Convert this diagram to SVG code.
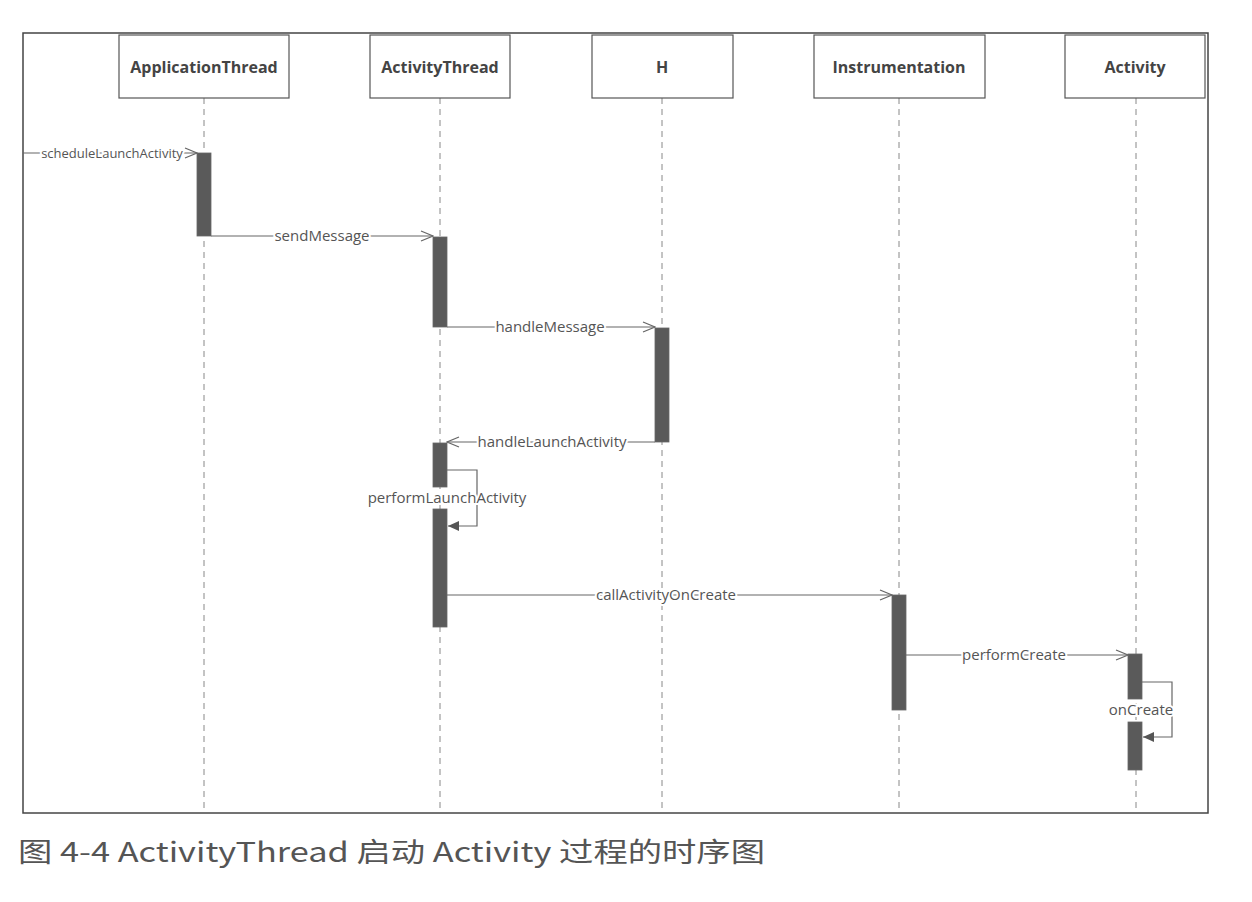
<svg xmlns="http://www.w3.org/2000/svg" width="1252" height="902" viewBox="0 0 1252 902">
<style>
.box{fill:#fff;stroke:#555;stroke-width:1.2}
.bt{font-family:"Open Sans","DejaVu Sans",sans-serif;font-weight:bold;font-size:16px;fill:#444;text-anchor:middle}
.life{stroke:#888;stroke-width:1;stroke-dasharray:6,5;fill:none}
.bar{fill:#5a5a5a;stroke:#666;stroke-width:0.8}
.msg{stroke:#666;stroke-width:1.2;fill:none}
.lbl{font-family:"Open Sans","DejaVu Sans",sans-serif;font-size:15px;fill:#555;text-anchor:middle;stroke:#fff;stroke-width:4;paint-order:stroke}
</style>
<defs>
<marker id="open" markerWidth="14" markerHeight="12" refX="13" refY="6" orient="auto" markerUnits="userSpaceOnUse">
<path d="M1,1 L13,6 L1,11" fill="none" stroke="#666" stroke-width="1.2"/>
</marker>
<marker id="fill" markerWidth="12" markerHeight="12" refX="11" refY="6" orient="auto" markerUnits="userSpaceOnUse">
<path d="M0,1 L11,6 L0,11 Z" fill="#555"/>
</marker>
</defs>
<rect width="1252" height="902" fill="#fff"/>
<rect x="23" y="33" width="1185" height="780" fill="none" stroke="#444" stroke-width="1.5"/>

<g id="lifelines">
<line class="life" x1="204" y1="98" x2="204" y2="813"/>
<line class="life" x1="440" y1="98" x2="440" y2="813"/>
<line class="life" x1="662" y1="98" x2="662" y2="813"/>
<line class="life" x1="899" y1="98" x2="899" y2="813"/>
<line class="life" x1="1136" y1="98" x2="1136" y2="813"/>
</g>

<g id="ApplicationThread"><rect class="box" x="119" y="35" width="170" height="63"/><text class="bt" x="204" y="73">ApplicationThread</text></g>
<g id="ActivityThread"><rect class="box" x="370" y="35" width="140" height="63"/><text class="bt" x="440" y="73">ActivityThread</text></g>
<g id="H"><rect class="box" x="592" y="35" width="141" height="63"/><text class="bt" x="662" y="73">H</text></g>
<g id="Instrumentation"><rect class="box" x="814" y="35" width="171" height="63"/><text class="bt" x="899" y="73">Instrumentation</text></g>
<g id="Activity"><rect class="box" x="1065" y="35" width="140" height="63"/><text class="bt" x="1135" y="73">Activity</text></g>

<g id="activations">
<rect class="bar" x="197" y="153" width="14" height="83"/>
<rect class="bar" x="433" y="237" width="14" height="90"/>
<rect class="bar" x="655" y="328" width="14" height="114"/>
<rect class="bar" x="433" y="443" width="14" height="44"/>
<rect class="bar" x="433" y="509" width="14" height="118"/>
<rect class="bar" x="892" y="595" width="14" height="115"/>
<rect class="bar" x="1128" y="654" width="14" height="45"/>
<rect class="bar" x="1128" y="722" width="14" height="48"/>
</g>

<g id="connectors">
<line class="msg" x1="23" y1="153" x2="197" y2="153" marker-end="url(#open)"/>
<line class="msg" x1="211" y1="236" x2="433" y2="236" marker-end="url(#open)"/>
<line class="msg" x1="447" y1="327" x2="655" y2="327" marker-end="url(#open)"/>
<line class="msg" x1="655" y1="442" x2="447" y2="442" marker-end="url(#open)"/>
<polyline class="msg" points="447,470 477,470 477,526 448,526" marker-end="url(#fill)"/>
<line class="msg" x1="447" y1="595" x2="892" y2="595" marker-end="url(#open)"/>
<line class="msg" x1="906" y1="655" x2="1128" y2="655" marker-end="url(#open)"/>
<polyline class="msg" points="1142,682 1172,682 1172,737 1143,737" marker-end="url(#fill)"/>
<text class="lbl" x="112" y="158" style="font-size:13px">scheduleLaunchActivity</text>
<text class="lbl" x="322" y="241">sendMessage</text>
<text class="lbl" x="550" y="332">handleMessage</text>
<text class="lbl" x="552" y="447">handleLaunchActivity</text>
<text class="lbl" x="447" y="503">performLaunchActivity</text>
<text class="lbl" x="666" y="600">callActivityOnCreate</text>
<text class="lbl" x="1014" y="660">performCreate</text>
<text class="lbl" x="1141" y="715">onCreate</text>
</g>

<text x="18" y="862" font-family="'Noto Sans CJK SC','Noto Sans',sans-serif" font-size="27" fill="#555" textLength="747" lengthAdjust="spacingAndGlyphs">图 4-4 ActivityThread 启动 Activity 过程的时序图</text>
</svg>
